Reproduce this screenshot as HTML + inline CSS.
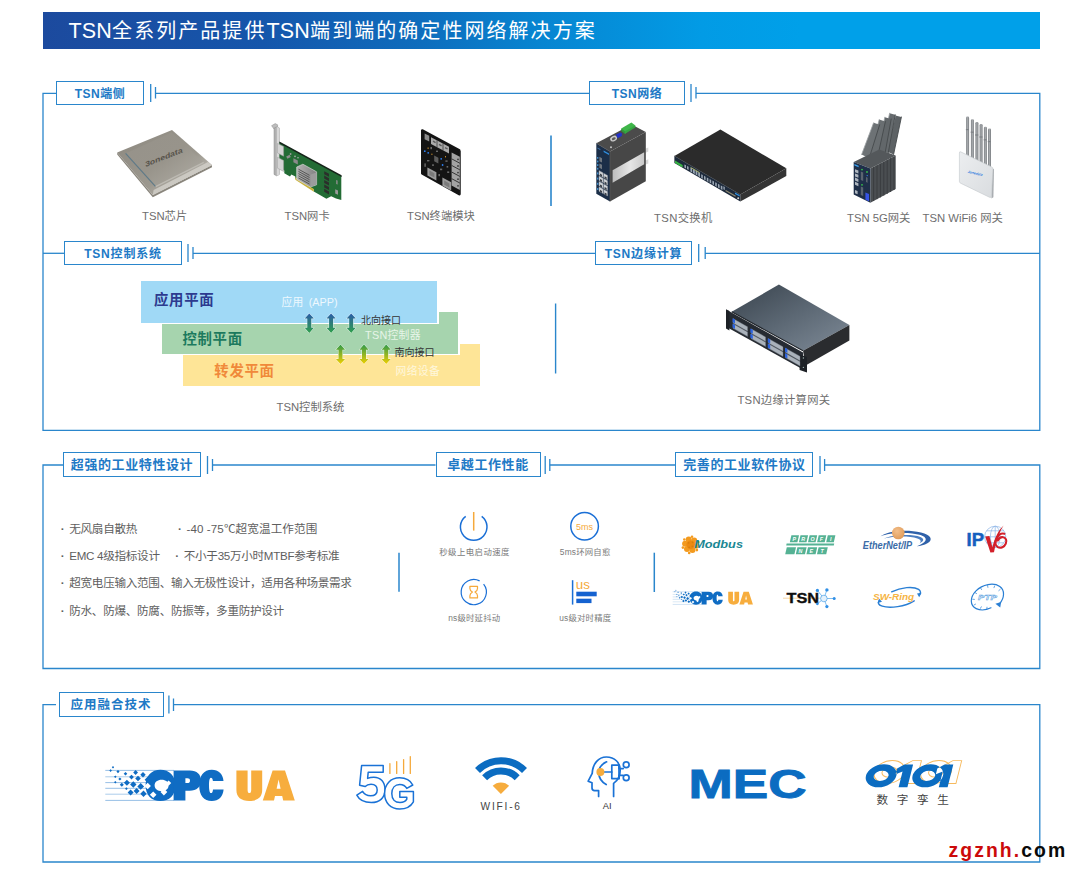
<!DOCTYPE html>
<html lang="zh">
<head>
<meta charset="utf-8">
<title>TSN</title>
<style>
html,body{margin:0;padding:0;background:#fff;}
body{width:1080px;height:874px;position:relative;overflow:hidden;font-family:"Liberation Sans","Noto Sans CJK SC",sans-serif;}
#pg{position:absolute;left:0;top:0;width:1080px;height:874px;overflow:hidden;background:#fff;}
.t{position:absolute;white-space:nowrap;line-height:1;margin:0;padding:0;}
#bar{position:absolute;left:43px;top:12px;width:997px;height:37px;background:linear-gradient(90deg,#1c4a9e 0%,#1556ab 22%,#0e6dbd 38%,#0785d1 50%,#029be5 66%,#00a0e9 76%,#00a0e9 100%);}
#ttl{left:68.5px;top:19px;font-size:20px;color:#fff;letter-spacing:2.05px;line-height:24px;}
#ttl b{font-weight:normal;font-size:21.5px;letter-spacing:0.2px;}
.lb{position:absolute;box-sizing:border-box;border:1.45px solid #2a86cc;background:#fff;color:#2079c6;font-weight:bold;text-align:center;white-space:nowrap;}
.cap{color:#6e6e6e;font-size:11.3px;}
.bl{color:#5e5e5e;font-size:11.6px;letter-spacing:-.3px;}
.bl i{display:inline-block;width:7.6px;margin-right:2.7px;font-style:normal;text-align:center;font-weight:bold;letter-spacing:0;}
.pc{color:#7a7a7a;font-size:8.4px;letter-spacing:.2px;}
svg{position:absolute;left:0;top:0;}
svg text{font-family:"Liberation Sans","Noto Sans CJK SC",sans-serif;}
</style>
</head>
<body>
<div id="pg">
<div id="bar"></div>
<div class="t h" id="ttl"><b>TSN</b>全系列产品提供<b>TSN</b>端到端的确定性网络解决方案</div>

<!-- FRAMES -->
<svg id="frames" width="1080" height="874" viewBox="0 0 1080 874" fill="none" stroke="#2a86cc" stroke-width="1.3">
<!-- frame 1 -->
<path d="M56 93.3H43V430.3H1039.8V93.3H696"/>
<path d="M155.5 93.3H589"/>
<path d="M150.7 84V102M155.5 87V98.5"/>
<path d="M691 84V102M696 87V98.5"/>
<path d="M43 253.3H64"/>
<path d="M193 253.3H595"/>
<path d="M705.2 253.3H1039.8"/>
<path d="M188 244V262M193 247V259"/>
<path d="M698.7 244V262M705.2 247V259"/>
<path d="M551 135.5V206" stroke-width="1.6"/>
<path d="M555.6 303.5V373.5" stroke-width="1.4"/>
<!-- frame 2 -->
<path d="M63 465H43V668.5H1039.8V465H824.6"/>
<path d="M212.5 465H435.5"/>
<path d="M549.8 465H675.4"/>
<path d="M207.5 456V474M212.5 459V471"/>
<path d="M545.2 456V474M549.8 459V471"/>
<path d="M820 456V474M824.6 459V471"/>
<path d="M399 552.7V591.7" stroke-width="1.5"/>
<path d="M654.3 552.7V592" stroke-width="1.5"/>
<!-- frame 3 -->
<path d="M56 704.7H43V862H1039.8V704.7H173.5"/>
<path d="M168.9 695.6V713.6M173.5 698.4V711"/>
</svg>

<!-- label boxes -->
<div class="lb" style="left:56px;top:80.5px;width:88px;height:24px;font-size:12px;line-height:24.4px;letter-spacing:.5px">TSN端侧</div>
<div class="lb" style="left:589px;top:80.5px;width:96px;height:24px;font-size:12px;line-height:24.4px;letter-spacing:.5px">TSN网络</div>
<div class="lb" style="left:64px;top:241.3px;width:118px;height:24px;font-size:12px;line-height:24.4px;letter-spacing:.8px">TSN控制系统</div>
<div class="lb" style="left:595px;top:241.3px;width:97px;height:24px;font-size:12px;line-height:24.4px;letter-spacing:.8px">TSN边缘计算</div>
<div class="lb" style="left:63px;top:452.3px;width:138px;height:25.2px;font-size:13px;line-height:24.6px;letter-spacing:.6px">超强的工业特性设计</div>
<div class="lb" style="left:435.5px;top:452.3px;width:105px;height:25.2px;font-size:13px;line-height:24.6px;letter-spacing:.6px">卓越工作性能</div>
<div class="lb" style="left:675.4px;top:452.3px;width:138px;height:25.2px;font-size:13px;line-height:24.6px;letter-spacing:.6px">完善的工业软件协议</div>
<div class="lb" style="left:58.6px;top:692.3px;width:105px;height:24.8px;font-size:12.5px;line-height:24.6px;letter-spacing:1px">应用融合技术</div>

<!-- PRODUCTS (svg) -->

<svg id="prod1" width="1080" height="874" viewBox="0 0 1080 874">
<defs>
<linearGradient id="chipTop" x1="0" y1="0" x2="1" y2="1"><stop offset="0" stop-color="#96928a"/><stop offset=".5" stop-color="#98948b"/><stop offset="1" stop-color="#b2afa7"/></linearGradient>
<linearGradient id="chipRim" x1="0" y1="0" x2="1" y2="1"><stop offset="0" stop-color="#8c887f"/><stop offset=".6" stop-color="#9c988f"/><stop offset="1" stop-color="#d6d4ce"/></linearGradient>
<linearGradient id="hs" x1="0" y1="0" x2="1" y2="0"><stop offset="0" stop-color="#b4b4b4"/><stop offset="1" stop-color="#808080"/></linearGradient>
</defs>
<!-- chip -->
<g>
<path d="M117.2 154.6L152.8 197.2L212 167.2V165L152.8 195L117.2 152.5Z" fill="#8a867d"/>
<path d="M117.2 152.5L172 130L212 165L152.8 195Z" fill="url(#chipRim)"/>
<path d="M152.8 195L212 165L208 162L153.6 190Z" fill="#d3d1cb" opacity=".8"/>
<path d="M125.6 153.4L171.6 132.4L203.8 162.4L155.6 186.6Z" fill="url(#chipTop)"/>
<path d="M125.6 153.4L155.6 186.6" stroke="#5f7a88" stroke-width="1.2" fill="none"/>
<path d="M155.6 186.6L203.8 162.4" stroke="#bdbab3" stroke-width="1.2" fill="none"/>
<text transform="translate(145.4 167) rotate(-21.5) skewX(-18)" x="0" y="0" font-size="7" font-weight="bold" fill="#56524a" textLength="40" lengthAdjust="spacingAndGlyphs">3onedata</text>
</g>
<!-- NIC card -->
<g>
<path d="M271.6 125.7L275.2 123.6L277.6 124.8V127.6L274 129Z" fill="#bdbdbd" stroke="#8c8c8c" stroke-width=".5"/>
<path d="M274 128.2L276.8 126.8L279.4 128V174.4L276.8 175.9L274 174.4Z" fill="#b0b0b0" stroke="#8c8c8c" stroke-width=".5"/>
<path d="M276.8 126.8L279.4 128V174.4L276.8 175.9Z" fill="#d8d8d8"/>
<path d="M279.4 142.2L341.3 175.9V199.9L336 198.6L331.2 196.2L328.8 197.6L326.4 198.8L313.8 191.5L313.8 189.4L295.3 178.6V176.6L291.4 174.6L290 176.4L284.3 173.2L284.3 170.4L279.4 167.6Z" fill="#236c35"/>
<path d="M295.3 177.2L313.8 189L313.8 191.7L295.3 179.8Z" fill="#c8b23c"/>
<path d="M279.4 141.4L341.6 175.2V177L279.4 143.2Z" fill="#16241a"/>
<path d="M277.5 143.4L283.6 146.6V156.2L277.5 153Z" fill="#d4d4d4" stroke="#9a9a9a" stroke-width=".5"/>
<path d="M277.5 157.2L283.6 160.4V171.4L277.5 168.2Z" fill="#d4d4d4" stroke="#9a9a9a" stroke-width=".5"/>
<path d="M296.7 167L302.9 164.2L316.6 171.8V184.8L310.4 187L296.7 179.3Z" fill="url(#hs)" stroke="#e4e4e4" stroke-width=".6"/>
<path d="M298.5 169.2L309.5 175.3M298.5 171.4L309.5 177.5M298.5 173.6L309.5 179.7M298.5 175.8L309.5 181.9M298.5 178L309.5 184.1" stroke="#4e4e4e" stroke-width=".9"/>
<path d="M310.4 174.8L316.4 172.2V184.6L310.4 186.8Z" fill="#9c9c9c"/>
<g fill="#2b2f2b">
<path d="M324.2 171.2L329 173.8V176.8L324.2 174.2Z"/><path d="M324.2 175.6L329 178.2V181.2L324.2 178.6Z"/><path d="M324.2 180L329 182.6V185.6L324.2 183Z"/><path d="M324.2 184.4L329 187V190L324.2 187.4Z"/><path d="M324.2 188.8L329 191.4V194.4L324.2 191.8Z"/>
</g>
<path d="M286.2 156.4l3.4-1.6l1.2 2.2l-3.4 1.8z" fill="#8d8d8d"/>
<path d="M293.4 158.2l4.4 2.2v4l-4.4-2.2z" fill="#8a8a8a"/>
<circle cx="290.6" cy="154" r=".9" fill="#9a9a9a"/><circle cx="295" cy="156.4" r=".8" fill="#b0b0b0"/><circle cx="298" cy="157.8" r=".8" fill="#b0b0b0"/>
<path d="M335.2 189.2l2.8 1.4v4.2l-2.8-1.4z" fill="#9a9a9a"/>
<path d="M336.2 180l1.4.6v4l-1.4-.6z" fill="#8f8f8f"/>
</g>
<!-- terminal module -->
<g>
<path d="M422.2 130.4L459.3 150.2V194.2L422.2 173.4Z" fill="#141414" stroke="#141414" stroke-width="2.4" stroke-linejoin="round"/>
<path d="M460.4 151V194.6" stroke="#3a3a3a" stroke-width=".8"/>
<path d="M424.6 133.4L429.2 135.8V141.6L424.6 139.2Z" fill="#8c8c8c"/>
<path d="M431 137.2L449 146.8V153.6L431 144Z" fill="#a9a9a9"/>
<path d="M437 140.4V147.2M443 143.6V150.4" stroke="#3a3a3a" stroke-width=".8"/>
<path d="M433 141.2l2.6 1.4M439 144.4l2.6 1.4M445 147.6l2.6 1.4" stroke="#5a5a5a" stroke-width="1.4"/>
<path d="M451.6 152.4L459.8 156.8V190L451.6 185.6Z" fill="#a3a3a3"/>
<path d="M451.6 158.8L459.8 163.2M451.6 165.4L459.8 169.8M451.6 172L459.8 176.4M451.6 178.6L459.8 183" stroke="#2a2a2a" stroke-width=".9"/>
<g fill="#3c3c3c"><circle cx="458" cy="159.4" r=".9"/><circle cx="458" cy="166" r=".9"/><circle cx="458" cy="172.6" r=".9"/><circle cx="458" cy="179.2" r=".9"/><circle cx="458" cy="185.8" r=".9"/></g>
<path d="M427.4 167.4L436.4 172.2V180.4L427.4 175.6Z" fill="#9b9b9b"/>
<path d="M429.4 170.6L434.4 173.3V177.6L429.4 174.9Z" fill="#7a7a7a"/>
<path d="M442.4 177.6L451.2 182.3V190.4L442.4 185.7Z" fill="#9b9b9b"/>
<path d="M444.2 180.6L449.4 183.4V187.6L444.2 184.8Z" fill="#7a7a7a"/>
<path d="M434.2 155.6L438.4 157.8V163.4L434.2 161.2Z" fill="#5c5c5c"/>
<g fill="#2d7ff0"><circle cx="424.8" cy="151.2" r=".9"/><circle cx="428.2" cy="152.8" r=".9"/><circle cx="441.2" cy="158.8" r=".9"/><circle cx="442.6" cy="165" r=".9"/></g>
<g fill="#6a6a6a"><rect x="430.4" y="147" width="1.6" height="2.2"/><rect x="427" y="160" width="2.4" height="1.4"/><rect x="432" y="164.4" width="2" height="1.4"/><rect x="440" y="168.6" width="2.2" height="1.6"/><rect x="445.4" y="160.4" width="2.2" height="1.4"/><rect x="438.4" y="174" width="1.6" height="2.2"/><rect x="447.2" y="171.4" width="2" height="1.6"/><rect x="424.4" y="163.4" width="1.4" height="3.4"/><rect x="436" y="150.6" width="2" height="1.4"/><rect x="446.6" y="166" width="1.6" height="1.6"/></g>
<g fill="#c08a2e"><rect x="427.6" y="147.4" width="1" height="1.6"/><rect x="431.4" y="153.6" width="1" height="1.4"/><rect x="445" y="156" width="1" height="1.4"/></g>
</g>
</svg>


<svg id="prod2" width="1080" height="874" viewBox="0 0 1080 874">
<defs>
<linearGradient id="band" x1="0" y1="0" x2="1" y2="0"><stop offset="0" stop-color="#bdbdbd"/><stop offset=".55" stop-color="#e6e6e6"/><stop offset="1" stop-color="#c9c9c9"/></linearGradient>
<linearGradient id="edgeTop" x1="0" y1="0" x2="1" y2="1"><stop offset="0" stop-color="#39434d"/><stop offset=".5" stop-color="#5c6874"/><stop offset="1" stop-color="#7f8b98"/></linearGradient>
<linearGradient id="wifiBody" x1="0" y1="0" x2="1" y2="1"><stop offset="0" stop-color="#eceef0"/><stop offset="1" stop-color="#d9dcdf"/></linearGradient>
<linearGradient id="ant" x1="0" y1="0" x2="1" y2="0"><stop offset="0" stop-color="#7d8185"/><stop offset=".5" stop-color="#a6a9ac"/><stop offset="1" stop-color="#777b7f"/></linearGradient>
</defs>
<!-- DIN rail switch -->
<g>
<path d="M645.7 148.6l2.6-1.2v4.2l-2.6 1.2zM645.7 160.4l2.6-1.2v4.2l-2.6 1.2z" fill="#d9d9d9"/>
<path d="M596.3 143.2L631.6 124.4L645.8 132L610 151.4Z" fill="#4b4b4b"/>
<path d="M610 151.4L645.8 132V181.2L610 201.4Z" fill="#474747"/>
<path d="M596.3 143.2L610 151.4V201.4L596.3 193.8Z" fill="#1b2e48"/>
<path d="M596.3 143.2L610 151.4V201.4" fill="none" stroke="#5a5a5a" stroke-width=".7"/>
<path d="M612.6 170.2L644.2 152.3V164.2L612.6 182.8Z" fill="url(#band)"/>
<path d="M621.2 128.6L631.4 122.6L635.4 125.4L625 133.8Z" fill="#3fb64a"/>
<path d="M621.2 128.6L625 131.2V133.8L621.2 131Z" fill="#2f9a3a"/>
<path d="M625 131.2L635.4 125.4V127.6L625 133.8Z" fill="#35a541"/>
<path d="M616 134.6l4.4-2.2l1.6 1l-.2 2.6l-4.2 2.2z" fill="#2331c8"/>
<ellipse cx="613.6" cy="138.6" rx="3.6" ry="2.6" transform="rotate(-28 613.6 138.6)" fill="#c9c9c9"/>
<ellipse cx="613.8" cy="138.7" rx="2" ry="1.3" transform="rotate(-28 613.8 138.7)" fill="#5a5a5a"/>
<circle cx="611" cy="147.2" r="1" fill="#c4c4c4"/>
<path d="M603.6 150.4l5.4 3v1.6l-5.4-3z" fill="#2f8fe0"/>
<path d="M597.4 147.4l3 1.6v1.2l-3-1.6z" fill="#3b6fa6"/>
<g fill="#6f7780"><path d="M599.4 156.8l2.6 1.4v4.4l-2.6-1.4z"/><path d="M599.4 163.4l2.6 1.4v4.4l-2.6-1.4z"/></g>
<g fill="#4aa3e8"><rect x="597.2" y="157" width="1.1" height="1.8"/><rect x="597.2" y="160.6" width="1.1" height="1.8"/><rect x="597.2" y="164.2" width="1.1" height="1.8"/><rect x="597.2" y="167.8" width="1.1" height="1.8"/><rect x="597.2" y="172.4" width="1.1" height="2"/><rect x="597.2" y="177.6" width="1.1" height="2"/><rect x="597.2" y="182.8" width="1.1" height="2"/><rect x="597.2" y="188" width="1.1" height="2"/></g>
<g fill="#d0d4d8" stroke="#8a9098" stroke-width=".4">
<path d="M599 170.6l4 2.2v4.4l-4-2.2z"/><path d="M603.6 173.2l4 2.2v4.4l-4-2.2z"/>
<path d="M599 176l4 2.2v4.4l-4-2.2z"/><path d="M603.6 178.6l4 2.2v4.4l-4-2.2z"/>
<path d="M599 181.4l4 2.2v4.4l-4-2.2z"/><path d="M603.6 184l4 2.2v4.4l-4-2.2z"/>
<path d="M599 186.8l4 2.2v4.4l-4-2.2z"/><path d="M603.6 189.4l4 2.2v4.4l-4-2.2z"/>
</g>
<g fill="#3a3f46"><path d="M600 173.6l2 1.1v2l-2-1.1zM604.6 176.2l2 1.1v2l-2-1.1zM600 179l2 1.1v2l-2-1.1zM604.6 181.6l2 1.1v2l-2-1.1zM600 184.4l2 1.1v2l-2-1.1zM604.6 187l2 1.1v2l-2-1.1zM600 189.8l2 1.1v2l-2-1.1zM604.6 192.4l2 1.1v2l-2-1.1z"/></g>
</g>
<!-- rack switch -->
<g>
<path d="M674.4 156L720.4 129.6L786.3 168.3L740.3 194.6Z" fill="#2b2b2b"/>
<path d="M740.3 194.6L786.3 168.3V176L740.3 201.6Z" fill="#343434"/>
<path d="M674.4 156L740.3 194.6V201.6L674.4 163Z" fill="#1d2a3c"/>
<path d="M674.4 156L740.3 194.6" stroke="#3a3f45" stroke-width=".6" fill="none"/>
<path d="M675 160.6l7.6 4.4v2.4l-7.6-4.4z" fill="#36b343"/>
<g fill="#9aa6b3">
<path d="M684.4 164.4l1.6.9v3.2l-1.6-.9zM687 165.9l1.6.9v3.2l-1.6-.9z"/>
<path d="M690.4 167.6l1.8 1v4l-1.8-1zM693 169.1l1.8 1v4l-1.8-1zM695.6 170.6l1.8 1v4l-1.8-1zM698.2 172.1l1.8 1v4l-1.8-1z"/>
<path d="M701.2 174.2l1.6.9v3.6l-1.6-.9zM704 175.8l1.6.9v3.6l-1.6-.9zM706.8 177.4l1.6.9v3.6l-1.6-.9zM709.6 179l1.6.9v3.6l-1.6-.9zM712.4 180.6l1.6.9v3.6l-1.6-.9zM715.2 182.2l1.6.9v3.6l-1.6-.9zM718 183.8l1.6.9v3.6l-1.6-.9zM720.8 185.4l1.6.9v3.6l-1.6-.9z"/>
<path d="M723.4 186.2l1.4.8v3l-1.4-.8z"/>
</g>
<path d="M690.6 167.4l9 5.2" stroke="#c2c86a" stroke-width=".8"/>
<path d="M725.6 190.4l10 5.8" stroke="#8f8a72" stroke-width="1.2"/>
<path d="M735 192.4l4.6 2.6v1.6l-4.6-2.6z" fill="#2f8fe0"/>
<circle cx="738.2" cy="198.2" r="1" fill="#d5d5d5"/>
</g>
<!-- 5G gateway -->
<g>
<g stroke-linecap="round"><path d="M886.8 151.6L895.4 115.4L901.4 117.0L893.6 154.4Z" fill="#5d6265"/><path d="M886.8 151.6L895.4 115.4" stroke="#9da2a5" stroke-width=".8" fill="none"/><path d="M893.6 154.4L901.4 117.0" stroke="#45494c" stroke-width=".9" fill="none"/><path d="M881.6 150.6L889.6 113.2L895.2 114.8L888.2 153.0Z" fill="#666b6e"/><path d="M881.6 150.6L889.6 113.2" stroke="#9da2a5" stroke-width=".8" fill="none"/><path d="M888.2 153.0L895.2 114.8" stroke="#45494c" stroke-width=".9" fill="none"/><path d="M876.4 157.2L884.8 117.2L891.2 119.0L883.8 160.4Z" fill="#62676a"/><path d="M876.4 157.2L884.8 117.2" stroke="#9da2a5" stroke-width=".8" fill="none"/><path d="M883.8 160.4L891.2 119.0" stroke="#45494c" stroke-width=".9" fill="none"/><path d="M869.4 156.4L879.2 119.6L885.4 121.6L877.0 159.6Z" fill="#696e71"/><path d="M869.4 156.4L879.2 119.6" stroke="#9da2a5" stroke-width=".8" fill="none"/><path d="M877.0 159.6L885.4 121.6" stroke="#45494c" stroke-width=".9" fill="none"/><path d="M861.6 154.6L873.6 122.8L879.6 124.8L869.2 158.2Z" fill="#6d7275"/><path d="M861.6 154.6L873.6 122.8" stroke="#9da2a5" stroke-width=".8" fill="none"/><path d="M869.2 158.2L879.6 124.8" stroke="#45494c" stroke-width=".9" fill="none"/></g>
<path d="M853.7 162L879.2 149.6L895.7 155.6L870.4 168.6Z" fill="#54585b"/>
<path d="M870.4 168.6L895.7 155.6V189L870.4 202.8Z" fill="#4a4e51"/>
<path d="M873.6 167.2V201M877 165.4V199.2M880.4 163.6V197.4M883.8 161.8V195.6M887.2 160V193.8M890.6 158.2V192M894 156.6V190" stroke="#3a3d40" stroke-width="1"/>
<path d="M853.7 162L870.4 168.6V202.8L853.7 194.4Z" fill="#1f2f49"/>
<path d="M854.4 164l4.2 1.7v1.6l-4.2-1.7z" fill="#3aa0ee"/>
<g fill="#aeb6bf"><path d="M855 169.2l3.4 1.4v3l-3.4-1.4zM855 173.4l3.4 1.4v3l-3.4-1.4zM855 177.6l3.4 1.4v3l-3.4-1.4zM855 181.8l3.4 1.4v3l-3.4-1.4z"/><path d="M855 190l2.6 1.1v3.2l-2.6-1.1z"/></g>
<g fill="#5b6470"><path d="M860.8 171.4l2.4 1v8.6l-2.4-1zM860.8 186.4l2.4 1v8.6l-2.4-1z"/><path d="M866 177l1.6.7v5l-1.6-.7z"/></g>
<g fill="#37c24a"><circle cx="862" cy="169.6" r=".9"/><circle cx="867" cy="172" r=".9"/><circle cx="862" cy="184.8" r=".9"/></g>
<path d="M865.4 192.4l3.6 1.5v7.4l-3.6-1.5z" fill="#3654e6"/>
<circle cx="867.2" cy="175.6" r=".7" fill="#3f7fe8"/>
</g>
<!-- WiFi6 gateway -->
<g>
<g fill="url(#ant)">
<rect x="966.1" y="116.6" width="3" height="42" rx="1.3"/>
<rect x="970.9" y="119.2" width="3" height="42" rx="1.3"/>
<rect x="975.4" y="122" width="3" height="42" rx="1.3"/>
<rect x="979.6" y="124" width="3" height="42" rx="1.3"/>
<rect x="983.9" y="126.8" width="3" height="42" rx="1.3"/>
<rect x="988" y="128.6" width="3" height="42" rx="1.3"/>
</g>
<g fill="#7d8185"><rect x="965.9" y="129" width="3.1" height="1.2"/><rect x="970.7" y="131.6" width="3.1" height="1.2"/><rect x="975.2" y="134.4" width="3.1" height="1.2"/><rect x="979.4" y="136.4" width="3.1" height="1.2"/><rect x="983.7" y="139.2" width="3.1" height="1.2"/><rect x="987.8" y="141" width="3.1" height="1.2"/></g>
<path d="M992.4 168.4l1.6.8l-.6 28l-2 1.4z" fill="#a9adb1"/>
<path d="M960.6 151.8Q959.4 151.4 959.4 153V181.4Q959.4 182.6 960.6 183.2L989.4 197.2Q991.2 198 991.4 196.2L993 169Q993.1 167.6 991.8 167Z" fill="url(#wifiBody)" stroke="#c3c7cb" stroke-width=".6"/>
<text transform="translate(967.4 172.8) rotate(12) skewX(-14)" x="0" y="0" font-size="3.4" font-weight="bold" font-style="italic" fill="#2d7be0" textLength="14.9" lengthAdjust="spacingAndGlyphs">3onedata</text>
</g>
<!-- edge computing gateway -->
<g>
<path d="M731.7 311.8L778.9 284.6L849.4 324.9L803 350.8Z" fill="url(#edgeTop)"/>
<path d="M803 350.8L849.4 324.9V340.4L805.6 365.4Z" fill="#2a2c2f"/>
<path d="M727.5 310.3L803 352.4V369.6L727.5 327.5Z" fill="#262b32"/>
<path d="M726 309.2l3.4 1.9v19.4l-3.4-1.9z" fill="#1d2126"/>
<path d="M799.6 354.4l7.4 2.6v15.6l-7.4-2.6z" fill="#1d2126"/>
<path d="M731.7 311.8L803 350.8" stroke="#20252b" stroke-width="1.2" fill="none"/>
<g fill="#aab2bb" stroke="#6a727c" stroke-width=".4">
<path d="M733 318.6l14.6 8.2v4.4l-14.6-8.2zM733 323.8l14.6 8.2v4.4l-14.6-8.2z"/>
<path d="M751 328.8l14.6 8.2v4.4l-14.6-8.2zM751 334l14.6 8.2v4.4l-14.6-8.2z"/>
<path d="M768.4 338.6l14.6 8.2v4.4l-14.6-8.2zM768.4 343.8l14.6 8.2v4.4l-14.6-8.2z"/>
<path d="M785.6 348.2l14.4 8.1v4.4l-14.4-8.1zM785.6 353.4l14.4 8.1v4.4l-14.4-8.1z"/>
</g>
<g fill="#2a62e0">
<path d="M732.6 318.2l2.4 1.3v4l-2.4-1.3zM732.6 323.6l2.4 1.3v4l-2.4-1.3z"/>
<path d="M750.4 328.4l2.4 1.3v4l-2.4-1.3zM750.4 333.8l2.4 1.3v4l-2.4-1.3z"/>
<path d="M767.8 338.2l2.4 1.3v4l-2.4-1.3zM767.8 343.6l2.4 1.3v4l-2.4-1.3z"/>
<path d="M785 347.8l2.4 1.3v4l-2.4-1.3zM785 353.2l2.4 1.3v4l-2.4-1.3z"/>
</g>
<circle cx="803.4" cy="358" r=".7" fill="#9aa"/><circle cx="803.4" cy="367.4" r=".7" fill="#9aa"/>
</g>
</svg>


<!-- captions -->
<div class="t h cap" style="left:142px;top:210.5px">TSN芯片</div>
<div class="t h cap" style="left:284.5px;top:210.5px">TSN网卡</div>
<div class="t h cap" style="left:407px;top:210.5px">TSN终端模块</div>
<div class="t h cap" style="left:654px;top:212.8px;letter-spacing:.35px">TSN交换机</div>
<div class="t h cap" style="left:847px;top:212.8px">TSN 5G网关</div>
<div class="t h cap" style="left:922.5px;top:212.8px">TSN WiFi6 网关</div>
<div class="t h cap" style="left:276.5px;top:402px">TSN控制系统</div>
<div class="t h cap" style="left:737.4px;top:394.6px;letter-spacing:.28px">TSN边缘计算网关</div>


<!-- planes -->
<div style="position:absolute;left:183px;top:343.5px;width:297px;height:42.5px;background:#fee597;"></div>
<div style="position:absolute;left:160.6px;top:310.2px;width:299px;height:44.8px;background:#fff;"></div>
<div style="position:absolute;left:162px;top:311.6px;width:296.2px;height:42px;background:#a6d4ae;"></div>
<div style="position:absolute;left:139.3px;top:279.2px;width:299.4px;height:44.8px;background:#fff;"></div>
<div style="position:absolute;left:140.7px;top:280.5px;width:296.6px;height:42px;background:#a0d9f6;"></div>
<svg width="1080" height="874" viewBox="0 0 1080 874">
<defs>
<linearGradient id="gbg" x1="0" y1="0" x2="0" y2="1"><stop offset="0" stop-color="#2a5caa"/><stop offset="1" stop-color="#2fa04a"/></linearGradient>
<linearGradient id="ggy" x1="0" y1="0" x2="0" y2="1"><stop offset="0" stop-color="#2f9a49"/><stop offset="1" stop-color="#f0cf00"/></linearGradient>
<path id="arw" d="M0 -9.8L4.6 -4.6H2V4.6H4.6L0 9.8L-4.6 4.6H-2V-4.6H-4.6Z"/>
</defs>
<g fill="url(#gbg)" stroke="#fff" stroke-width="1" stroke-opacity=".75" paint-order="stroke">
<use href="#arw" x="309.3" y="323.2"/><use href="#arw" x="331.1" y="323.2"/><use href="#arw" x="351.2" y="323.2"/>
</g>
<g fill="url(#ggy)" stroke="#fff" stroke-width="1" stroke-opacity=".75" paint-order="stroke">
<use href="#arw" x="340.5" y="354.3"/><use href="#arw" x="364" y="354.3"/><use href="#arw" x="386.2" y="354.3"/>
</g>
</svg>
<div class="t h" style="left:154px;top:293px;font-size:14.4px;font-weight:bold;color:#2d3a8f;letter-spacing:.7px">应用平面</div>
<div class="t h" style="left:182.4px;top:332px;font-size:14.4px;font-weight:bold;color:#1c7a5e;letter-spacing:.7px">控制平面</div>
<div class="t h" style="left:214.3px;top:363.6px;font-size:14.4px;font-weight:bold;color:#f0893a;letter-spacing:.7px">转发平面</div>
<div class="t h" style="left:281.5px;top:296.8px;font-size:10.8px;color:#eef8fe;letter-spacing:.3px">应用<span style="letter-spacing:0;margin-left:5px">(APP)</span></div>
<div class="t h" style="left:365px;top:330px;font-size:10.8px;color:#e6f4e8;letter-spacing:.3px">TSN控制器</div>
<div class="t h" style="left:395.6px;top:366.3px;font-size:10.8px;color:#fff7dc;letter-spacing:.3px">网络设备</div>
<div class="t h" style="left:361px;top:316px;font-size:10px;color:#333;">北向接口</div>
<div class="t h" style="left:394.4px;top:347.6px;font-size:10px;color:#333;">南向接口</div>


<!-- bullets -->
<div class="t h bl" style="left:59px;top:522.5px"><i>·</i>无风扇自散热</div>
<div class="t h bl" style="left:176.2px;top:522.5px;letter-spacing:.1px"><i>·</i>-40 -75℃超宽温工作范围</div>
<div class="t h bl" style="left:59px;top:549.8px"><i>·</i>EMC 4级指标设计</div>
<div class="t h bl" style="left:173.5px;top:549.8px"><i>·</i>不小于35万小时MTBF参考标准</div>
<div class="t h bl" style="left:59px;top:576.8px"><i>·</i>超宽电压输入范围、输入无极性设计，适用各种场景需求</div>
<div class="t h bl" style="left:59px;top:604.8px"><i>·</i>防水、防爆、防腐、防振等，多重防护设计</div>


<svg id="perf" width="1080" height="874" viewBox="0 0 1080 874" fill="none">
<path d="M481.7 516.3A13.3 13.3 0 1 1 465.7 516.3" stroke="#1a6fd6" stroke-width="1.5"/>
<path d="M473.7 512V530.6" stroke="#f5a93b" stroke-width="1.5"/>
<circle cx="584.6" cy="526.3" r="13.8" stroke="#1a6fd6" stroke-width="1.5"/>
<path d="M479.6 580.9A12.6 12.6 0 1 0 483.6 584.2" stroke="#1a6fd6" stroke-width="1.2"/>
<path d="M469.9 586.3H477.5V588.4Q477.5 590.6 475 592.1Q477.5 593.6 477.5 595.8V597.9H469.9V595.8Q469.9 593.6 472.4 592.1Q469.9 590.6 469.9 588.4Z" stroke="#f5a93b" stroke-width="1.2" stroke-linejoin="round"/>
<path d="M572.6 580.2V604.6" stroke="#1a6fd6" stroke-width="1.5"/>
<rect x="576.3" y="591.7" width="20.4" height="4.6" fill="#1562d0"/>
<rect x="576.3" y="598.7" width="15.2" height="4.4" fill="#1562d0"/>
<text x="576.1" y="529.6" font-size="9" fill="#f5a93b">5ms</text>
<text x="575.8" y="588.6" font-size="13.4" fill="#f5a93b">us</text>
</svg>
<div class="t h pc" style="left:439.3px;top:548.3px;letter-spacing:.45px">秒级上电启动速度</div>
<div class="t h pc" style="left:559.8px;top:548.3px">5ms环网自愈</div>
<div class="t h pc" style="left:448.2px;top:614.2px">ns级时延抖动</div>
<div class="t h pc" style="left:559.2px;top:614.2px">us级对时精度</div>

<svg id="logos" width="1080" height="874" viewBox="0 0 1080 874">
<defs>
<radialGradient id="ball" cx=".4" cy=".35" r=".7"><stop offset="0" stop-color="#f3bf8a"/><stop offset="1" stop-color="#df9a58"/></radialGradient>
<g id="opcua">
<g stroke="#0f6cc3" fill="none"><path d="M15.3 .3H84M15.3 12.5H62M15.3 18.2H62M15.3 30.3H84" stroke-width=".55" opacity=".8"/><path d="M15.3 6.7H62M15.3 24.1H62" stroke-width="1" opacity=".35"/></g>
<g fill="#0f6cc3">
<path d="M23.0 -4.1l1.2 1.2l-1.2 1.2l-1.2 -1.2zM20.6 -0.8l1.3 1.3l-1.3 1.3l-1.3 -1.3zM28.0 -0.1l1.6 1.6l-1.6 1.6l-1.6 -1.6zM35.5 1.8l1.8 1.8l-1.8 1.8l-1.8 -1.8zM45.6 0.0l2.4 2.4l-2.4 2.4l-2.4 -2.4zM53.0 2.0l2.7 2.7l-2.7 2.7l-2.7 -2.7zM25.3 5.3l1.3 1.3l-1.3 1.3l-1.3 -1.3zM29.9 7.3l1.6 1.6l-1.6 1.6l-1.6 -1.6zM41.5 4.6l2.4 2.4l-2.4 2.4l-2.4 -2.4zM48.0 5.6l2.8 2.8l-2.8 2.8l-2.8 -2.8zM25.3 10.8l1.3 1.3l-1.3 1.3l-1.3 -1.3zM36.9 9.6l3.0 3.0l-3.0 3.0l-3.0 -3.0zM43.3 11.2l3.2 3.2l-3.2 3.2l-3.2 -3.2zM31.8 12.7l2.0 2.0l-2.0 2.0l-2.0 -2.0zM50.7 12.9l3.4 3.4l-3.4 3.4l-3.4 -3.4zM36.4 17.2l1.4 1.4l-1.4 1.4l-1.4 -1.4zM40.6 19.3l3.0 3.0l-3.0 3.0l-3.0 -3.0zM46.6 17.9l3.0 3.0l-3.0 3.0l-3.0 -3.0zM53.5 20.5l3.2 3.2l-3.2 3.2l-3.2 -3.2zM57.6 6.6l3.0 3.0l-3.0 3.0l-3.0 -3.0z"/>
<path d="M70.4 -.3C79.4 -.3 85.4 5.6 85.4 15.3C85.4 25 79.4 30.9 70.4 30.9C61.6 30.9 55.6 25 55.6 15.3C55.6 5.6 61.6 -.3 70.4 -.3ZM71.6 9.6C67.6 9.6 64.6 11.8 64.6 15.2C64.6 18.8 67.6 21 71.6 21C75.8 21 78.6 18.8 78.6 15.2C78.6 11.8 75.8 9.6 71.6 9.6Z" fill-rule="evenodd"/>
</g>
<path d="M57.7 12.7l3.2 3.2l-3.2 3.2l-3.2 -3.2zM63.2 21.4l3.3 3.3l-3.3 3.3l-3.3 -3.3zM73.9 18.5l3.4 3.4l-3.4 3.4l-3.4 -3.4zM78.6 10.4l2.6 2.6l-2.6 2.6l-2.6 -2.6z" fill="#fff"/>
<g fill="#0f6cc3">
<path d="M83.6 .3H99.8C107 .3 110.9 4 110.9 10.4C110.9 17 106.8 20.6 99.6 20.6H95.4V30.5H83.6ZM95.4 8.2V13H97.4C99.2 13 100 12.2 100 10.6C100 9 99.2 8.2 97.4 8.2Z" fill-rule="evenodd"/>
<path d="M133.6 19.4C133 26.6 128.8 30.9 121.8 30.9C113.8 30.9 109.2 25 109.2 15.3C109.2 5.6 113.8 -.3 121.8 -.3C128.6 -.3 132.8 3.8 133.5 10.8H122.9C122.7 8.6 122 7.6 120.9 7.6C119.6 7.6 119 10.4 119 15.3C119 20.2 119.8 23 121 23C122.2 23 122.8 21.8 123 19.4Z"/>
</g>
<g fill="#f7ad3d">
<path d="M146.4 .3H157.6V19.6C157.6 22 158.2 23 159.4 23C160.6 23 161.2 22 161.2 19.6V.3H172.2V20C172.2 27.2 167.6 30.9 159.3 30.9C151 30.9 146.4 27.2 146.4 20Z"/>
<path d="M182.6 .3H195L204.8 30.5H193.2L192.2 26H185L184 30.5H172.8ZM186.6 18.6H190.6L188.6 9.4Z" fill-rule="evenodd"/>
</g>
</g>
</defs>
<!-- Modbus -->
<g fill="#f39a1e"><circle cx="696.1" cy="545.8" r="3" /><circle cx="692.5" cy="550.1" r="3" /><circle cx="687.0" cy="549.1" r="3" /><circle cx="685.1" cy="543.8" r="3" /><circle cx="688.7" cy="539.5" r="3" /><circle cx="694.2" cy="540.5" r="3" /><circle cx="696.9" cy="550.1" r="1.3" /><circle cx="689.2" cy="552.9" r="1.3" /><circle cx="682.9" cy="547.6" r="1.3" /><circle cx="684.3" cy="539.5" r="1.3" /><circle cx="692.0" cy="536.7" r="1.3" /><circle cx="698.3" cy="542.0" r="1.3" /><circle cx="690.6" cy="544.8" r="4.2" fill="#ec8a12"/></g>
<g fill="#c9760c" opacity=".55"><circle cx="688.6" cy="542.8" r=".9"/><circle cx="692.4" cy="546.4" r=".9"/><circle cx="689.2" cy="547.4" r=".8"/><circle cx="692.6" cy="542.4" r=".8"/></g>
<text x="694.2" y="548.1" font-size="10" font-weight="bold" font-style="italic" fill="#1a8793" textLength="48.8" lengthAdjust="spacingAndGlyphs">Modbus</text>
<!-- PROFINET -->
<g fill="#55b294"><path d="M791.4 535.2H799.0L797.4 542.2H789.8Z"/><path d="M800.5 535.2H808.1L806.5 542.2H798.9Z"/><path d="M809.6 535.2H817.2L815.6 542.2H808.0Z"/><path d="M818.7 535.2H826.3L824.7 542.2H817.1Z"/><path d="M827.8 535.2H835.4L833.8 542.2H826.2Z"/><path d="M786.8 547.2H796.0L794.4 554.2H785.2Z"/><path d="M797.4 547.2H806.6L805.0 554.2H795.8Z"/><path d="M808.0 547.2H817.2L815.6 554.2H806.4Z"/><path d="M818.6 547.2H827.8L826.2 554.2H817.0Z"/><path d="M786.6 543.6H834.2L833.8 545.6H786.2Z"/></g>
<g font-size="5.3" font-weight="bold" font-style="italic" fill="#fff"><text x="792.4" y="540.8">P</text><text x="801.3" y="540.8">R</text><text x="810.5" y="540.8">O</text><text x="819.8" y="540.8">F</text><text x="829.9" y="540.8">I</text><text x="798.6" y="552.8">N</text><text x="809.4" y="552.8">E</text><text x="820.4" y="552.8">T</text></g>
<!-- EtherNet/IP -->
<path d="M880.4 536.4C886 531.4 905 528.6 921 532.4C931 534.8 933.6 539.6 927.4 543.2C924.4 545 920.4 546 916.8 546.2C921 544.4 924.6 542.6 925.6 540.2C927 536.8 921 534.2 912 533.4C900 532.4 887 533.6 880.4 536.4Z" fill="#2f61a9"/>
<path d="M884 538.6C893 534.6 912 534 920.4 537C924.6 538.6 924 541.4 919.4 543.4C921.6 541.4 921 539.6 917.4 538.4C909 535.8 893 536.2 884 538.6Z" fill="#4b7dc0"/>
<circle cx="898.3" cy="533" r="6.3" fill="url(#ball)"/>
<text x="862.8" y="548.7" font-size="10" font-weight="bold" font-style="italic" fill="#3b6ca7" textLength="49.4" lengthAdjust="spacingAndGlyphs">EtherNet/IP</text>
<!-- IPv6 -->
<g fill="none" stroke="#8db4e6" stroke-width=".7"><circle cx="995.2" cy="536.8" r="10.6"/><ellipse cx="995.2" cy="536.8" rx="4.8" ry="10.6"/><path d="M984.6 536.8H1005.8M986.6 530.8H1003.8M986.6 542.8H1003.8M995.2 526.2V547.4"/></g>
<text x="966.6" y="545.8" font-size="18.5" font-weight="bold" fill="#155fbf" stroke="#155fbf" stroke-width=".5">IP</text>
<path d="M985.2 536.4L989.4 536L992.4 547.2C994.6 538.4 998.4 530 1003.6 525.4C999.8 531 996 541.4 994 552.2L990.4 552.4Z" fill="#d3202a"/>
<path d="M1004.4 533.8C1001.8 533 998.6 534.8 996.6 538.4C994.8 541.8 995.2 545.6 997.8 547.2C1000.6 548.8 1004.4 547 1005.8 543.6C1007.2 540.4 1005.8 537.6 1003.2 537.2C1001 536.8 998.8 538.4 997.8 540.6" fill="none" stroke="#d3202a" stroke-width="2.1" stroke-linecap="round"/>
<!-- OPC UA small -->
<use href="#opcua" transform="translate(666.2 591.6) scale(.4235)"/>
<!-- TSN -->
<path d="M783 598.2H821" stroke="#f4b04a" stroke-width=".6" opacity=".85"/>
<text x="786.5" y="602.7" font-size="14.7" font-weight="bold" fill="#0e0e0e" stroke="#0e0e0e" stroke-width=".35" textLength="32.6" lengthAdjust="spacingAndGlyphs">TSN</text>
<g stroke="#4aa0e6" stroke-width=".7" fill="none"><path d="M823.9 598.5L817.6 590.6M823.9 598.5L826.8 590.2M823.9 598.5L834 598.5M823.9 598.5L826.8 606.4M823.9 598.5L817.6 603.6"/></g>
<circle cx="823.9" cy="598.5" r="3.3" fill="#e4f1fc" stroke="#4aa0e6" stroke-width=".7"/>
<g fill="#2f8fe6"><circle cx="817.4" cy="590.4" r="1.6"/><circle cx="826.9" cy="589.9" r="1.7"/><circle cx="834.2" cy="598.5" r="1.5"/><circle cx="826.9" cy="606.6" r="1.6"/><circle cx="817.4" cy="603.8" r="1.4"/></g>
<!-- SW-Ring -->
<g fill="none" stroke="#2a7fd4" stroke-width="1.4" stroke-linecap="round">
<path d="M891.6 591.8C901 587.2 913.4 586 918.6 589.4C921 591 920.8 593 919.6 594.6"/>
<path d="M914.2 600.8C905 606.6 890 608.8 882.2 606.2C878 604.8 877.6 602.6 879.2 600.6"/>
</g>
<path d="M917 593.4L921.6 592.8L919.2 597.2Z" fill="#2a7fd4"/>
<path d="M877.6 603L879 598.6L882 601.8Z" fill="#2a7fd4"/>
<text x="873.1" y="600.2" font-size="8.9" font-weight="bold" font-style="italic" fill="#f6b444" textLength="41" lengthAdjust="spacingAndGlyphs">SW-Ring</text>
<!-- PTP -->
<g fill="none" stroke="#2a7fd4" stroke-linecap="round">
<path d="M999.6 603.6C1004.6 597.8 1005 590 999.8 586.4C993.6 582.2 982.6 584.2 976 590.8C969.6 597.4 969.8 605.4 976.2 608.6C980.4 610.6 986 610.2 991 607.8" stroke-width="1.2"/>
<path d="M975 592.6l1.6 1M980.6 588l1 1.6M987.6 585.6l.3 1.8M994.6 586l-.6 1.7M1000.2 589.4l-1.4 1.2M972.6 599.2l1.8.2M974 605l1.6-.9M980.4 608.4l.9-1.6M986.8 609l.2-1.8" stroke-width=".7"/>
</g>
<path d="M995.4 603.8L1001.2 602L1000.2 607.6Z" fill="#2a7fd4"/>
<text x="978.1" y="600" font-size="7.7" font-weight="bold" font-style="italic" fill="#fff" stroke="#5a9fe0" stroke-width=".5" textLength="18.8" lengthAdjust="spacingAndGlyphs">PTP</text>
</svg>

<svg id="bottom" width="1080" height="874" viewBox="0 0 1080 874">
<!-- OPC UA big -->
<use href="#opcua" transform="translate(90 770.1)"/>
<!-- 5G -->
<g fill="#fff" stroke="#1a72d6" stroke-width="1.5" stroke-linejoin="round">
<path d="M361.6 765.6H383.2V772.2H368.2L367.6 778.4C369.4 777.6 371.6 777.2 373.8 777.2C380.6 777.2 385 782 385 789.6C385 797.6 379.8 802.6 371.2 802.6C364.4 802.6 359.2 799.8 356.8 795.2L362.6 791.4C364.2 794.2 367 795.8 370.6 795.8C374.8 795.8 377.2 793.6 377.2 790C377.2 786.4 374.8 784.2 371 784.2C368.6 784.2 366.6 785 365.2 786.6L359.6 785.2Z"/>
<path d="M399.6 777.8C405.8 777.8 410.4 780.4 412.8 785L406.8 788.4C405.4 785.8 403 784.4 399.8 784.4C395 784.4 391.8 788 391.8 793.6C391.8 799.2 395 802.6 400 802.6C403.2 802.6 405.6 801.4 406.8 799.2V797.2H399.8V791.4H413.4V801.8C410.8 806.4 406 809 399.6 809C390.6 809 384.6 802.8 384.6 793.6C384.6 784.2 390.6 777.8 399.6 777.8Z"/>
</g>
<g stroke="#f5a93b" stroke-width="1.3" stroke-linecap="round" fill="none"><path d="M389.9 773.4V763.6M396.7 773.4V761.6M403.6 773.4V759.6M410.3 773.4V756.6"/></g>
<!-- WIFI -->
<g fill="none" stroke="#0b6cc1" stroke-width="7">
<path d="M477.5 770.5A33.2 33.2 0 0 1 524.5 770.5"/>
<path d="M484.6 777.7A23 23 0 0 1 517.2 777.7"/>
</g>
<path d="M500.9 794L492.7 785.8A11.6 11.6 0 0 1 509.1 785.8Z" fill="#f6ac3d"/>
<text x="480.6" y="809.7" font-size="10.2" fill="#444" textLength="39.4" lengthAdjust="spacing">WIFI-6</text>
<!-- AI -->
<g fill="none" stroke="#1a72d6" stroke-width="1.7" stroke-linejoin="round" stroke-linecap="round">
<path d="M598.6 796.4V790.6H594.6C592.8 790.6 592 789.6 592 788V782.8L588.2 781.2L592.2 773.4C592.6 763.8 598.4 757 606.4 757C614.6 757 620.2 762.6 620.2 770.2C620.2 776.4 617.6 780.6 613.6 783.4V796.4"/>
<path d="M606.6 761.8C601.4 764.2 598.6 768.4 598.8 773.4C599 778.4 602 782.2 606.2 784.6"/>
<path d="M604.4 772H611.8M619 768.6H623.2M619 775.4H623.2M619 768.6V765.2M619 775.4V778.6"/>
<rect x="611.8" y="765.2" width="7.2" height="13.4"/>
<circle cx="626.2" cy="764.8" r="2.9"/><circle cx="626.2" cy="777.8" r="2.9"/>
<path d="M619 765.2H623.3M619 778.6H623.3" stroke-width="0"/>
</g>
<circle cx="600.4" cy="772" r="4" fill="#f6ac3d"/>
<text x="602.8" y="809.1" font-size="9.25" fill="#333">AI</text>
<!-- MEC -->
<text x="688.6" y="797.7" font-size="40.3" font-weight="bold" fill="#0b6cc1" stroke="#0b6cc1" stroke-width=".9" textLength="118" lengthAdjust="spacingAndGlyphs">MEC</text>
<!-- 0101 -->
<g transform="translate(0 787.3) skewX(-14) translate(0 -787.3)">
<path d="M863.10 775.85a15.2 11.5 0 1 0 30.4 0a15.2 11.5 0 1 0 -30.4 0ZM870.90 775.85a7.4 5.1 0 1 1 14.8 0a7.4 5.1 0 1 1 -14.8 0ZM898.6 764.4H907.4V787.3H898.6V771.4L892.4 774.2V768.4ZM909.70 775.85a15.2 11.5 0 1 0 30.4 0a15.2 11.5 0 1 0 -30.4 0ZM917.50 775.85a7.4 5.1 0 1 1 14.8 0a7.4 5.1 0 1 1 -14.8 0ZM938.8 764.4H947.6V787.3H938.8V771.4L932.6 774.2V768.4Z" transform="translate(7.4 -3.8)" fill="none" stroke="#f6ba5e" stroke-width=".95" fill-rule="evenodd"/>
<path d="M863.10 775.85a15.2 11.5 0 1 0 30.4 0a15.2 11.5 0 1 0 -30.4 0ZM870.90 775.85a7.4 5.1 0 1 1 14.8 0a7.4 5.1 0 1 1 -14.8 0ZM898.6 764.4H907.4V787.3H898.6V771.4L892.4 774.2V768.4ZM909.70 775.85a15.2 11.5 0 1 0 30.4 0a15.2 11.5 0 1 0 -30.4 0ZM917.50 775.85a7.4 5.1 0 1 1 14.8 0a7.4 5.1 0 1 1 -14.8 0ZM938.8 764.4H947.6V787.3H938.8V771.4L932.6 774.2V768.4Z" fill="#0b6cc1" fill-rule="evenodd"/>
</g>
</svg>
<div class="t h" style="left:876.6px;top:794px;font-size:11.6px;color:#444;letter-spacing:8.6px">数字孪生</div>
<div class="t h" style="left:948.6px;top:838.4px;font-size:19.4px;font-weight:bold;letter-spacing:2.05px;color:#0a0a0a;line-height:24px"><span style="color:#cc0a0a">zgznh.</span>com</div>

</div>
</body>
</html>
